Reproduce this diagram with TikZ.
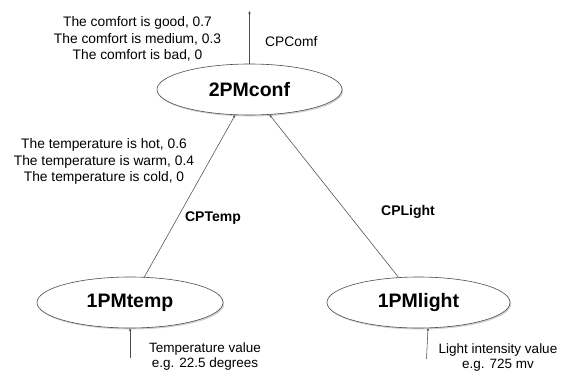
\documentclass[tikz,border=0pt]{standalone}
\usepackage{fontspec}
\setmainfont{Liberation Sans}
\usetikzlibrary{shapes.geometric,shadows,arrows.meta}
\begin{document}
\begin{tikzpicture}[x=1pt,y={(0pt,-1pt)},
  every node/.style={inner sep=0pt},
  pm/.style={ellipse,draw=black!70,fill=white,line width=0.6pt,minimum width=185pt,minimum height=51pt,
    font=\fontsize{19.5}{24}\selectfont\bfseries,
    drop shadow={shadow xshift=1.2pt,shadow yshift=-1.5pt,fill=black!30,opacity=0.6}},
  lbl/.style={align=center,font=\fontsize{13.8}{16.3}\selectfont},
  blbl/.style={font=\fontsize{14}{16}\selectfont\bfseries},
  conn/.style={draw=black!70,line width=0.55pt,-{Stealth[length=3pt,width=2.5pt]}}]
\useasboundingbox (0,0) rectangle (563,372);
\node[pm] (conf) at (249.5,89.5) {2PMconf};
\node[pm,minimum width=186pt] (temp) at (130,302.5) {1PMtemp};
\node[pm,minimum width=183pt] (light) at (418.5,302.5) {1PMlight};
\coordinate (top) at (249.5,11);
\coordinate (tin) at (130,358);
\coordinate (lin) at (426.5,359);
\coordinate (lend) at (428,328);
\draw[conn] (conf.north) -- (top);
\draw[conn] (temp) -- (conf);
\draw[conn] (light) -- (conf);
\draw[conn] (tin) -- (temp.south);
\draw[conn] (lin) -- (lend);
\node[lbl] (cl) at (137.5,39) {The comfort is good, 0.7\\The comfort is medium, 0.3\\The comfort is bad, 0};
\node[lbl,anchor=west] (cpc) at (265,42) {CPComf};
\node[lbl] (tl) at (104,161.5) {The temperature is hot, 0.6\\The temperature is warm, 0.4\\The temperature is cold, 0};
\node[blbl] (cpt) at (213,218) {CPTemp};
\node[blbl] (cpl) at (408,212) {CPLight};
\node[lbl,font=\fontsize{13.5}{15}\selectfont] (tv) at (205,357) {Temperature value\\e.g. 22.5 degrees};
\node[lbl,font=\fontsize{13.5}{15}\selectfont] (lv) at (498,357.5) {Light intensity value\\e.g. 725 mv};
\end{tikzpicture}
\end{document}
